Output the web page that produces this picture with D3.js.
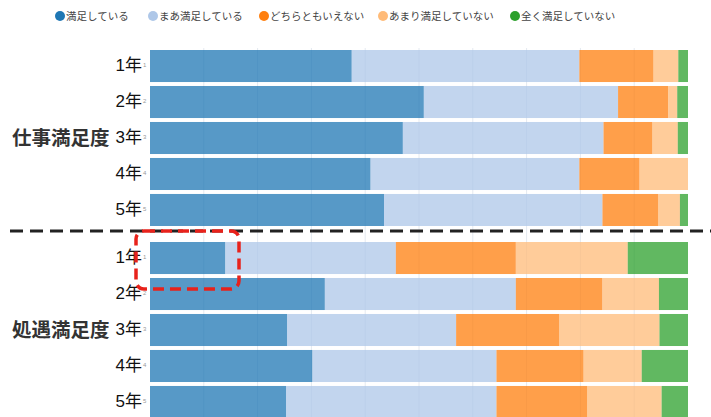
<!DOCTYPE html>
<html>
<head>
<meta charset="utf-8">
<script src="https://cdn.jsdelivr.net/npm/d3@7/dist/d3.min.js"></script>
<style>
  body { margin: 0; background: #fff; }
  svg { display: block; font-family: "Liberation Sans", "Noto Sans CJK JP", sans-serif; }
</style>
</head>
<body>
<div id="chart"></div>
<script>
'use strict';
// answer categories, years, percentages
var categories = ['満足している', 'まあ満足している', 'どちらともいえない', 'あまり満足していない', '全く満足していない'];
var years = ['1年', '2年', '3年', '4年', '5年'];
var groups = ['仕事満足度', '処遇満足度'];
var colors = ['#1f77b4', '#aec7e8', '#ff7f0e', '#ffbb78', '#2ca02c'];

var workValues = [
    [37.5, 42.3, 13.8, 4.6, 1.8],
    [50.9, 36.1, 9.3, 1.7, 2.0],
    [47.0, 37.3, 9.1, 4.7, 1.9],
    [41.0, 38.8, 11.2, 9.0, 0],
    [43.5, 40.6, 10.4, 4.0, 1.5]
];
var payValues = [
    [14.0, 31.7, 22.3, 20.8, 11.2],
    [32.5, 35.5, 16.1, 10.5, 5.4],
    [25.5, 31.4, 19.2, 18.6, 5.3],
    [30.2, 34.2, 16.2, 10.8, 8.6],
    [25.3, 39.1, 16.9, 13.8, 4.9]
];
var gridTicks = [10, 20, 30, 40, 50, 60, 70, 80, 90];

var width = 711, height = 417;
var svg = d3.select('#chart').append('svg')
    .attr('width', width)
    .attr('height', height);

var x = d3.scaleLinear().domain([0, 100]).range([150, 688]);
var color = d3.scaleOrdinal().domain(categories).range(colors);

// faint grid, barely showing through the bars
svg.append('g').selectAll('line')
    .data(gridTicks)
    .enter().append('line')
    .attr('x1', function (d) { return x(d); })
    .attr('x2', function (d) { return x(d); })
    .attr('y1', 48)
    .attr('y2', height)
    .attr('stroke', '#e4e9f0')
    .attr('stroke-width', 1);

function drawGroup(name, values, top) {
    var y = d3.scaleBand().domain(years).range([top, top + 176]).paddingInner(0.11);
    var g = svg.append('g');
    var stack = d3.stack().keys(d3.range(categories.length))(values);

    g.selectAll('g.series')
        .data(stack)
        .enter().append('g')
        .attr('fill', function (d, i) { return colors[i]; })
        .attr('fill-opacity', 0.75)
        .selectAll('rect')
        .data(function (d) { return d; })
        .enter().append('rect')
        .attr('x', function (d) { return x(d[0]); })
        .attr('width', function (d) { return x(d[1]) - x(d[0]); })
        .attr('y', function (d, i) { return y(years[i]); })
        .attr('height', y.bandwidth());

    var yAxis = d3.axisLeft(y).tickSize(0).tickPadding(0);
    var ax = g.append('g')
        .attr('transform', 'translate(142,0)')
        .call(yAxis);
    ax.select('.domain').remove();
    ax.selectAll('text')
        .attr('font-size', 17)
        .attr('fill', '#111')
        .attr('font-family', '"Liberation Sans", "Noto Sans CJK JP", sans-serif');

    // tiny index digits after the year labels
    g.selectAll('text.idx')
        .data(years)
        .enter().append('text')
        .attr('class', 'idx')
        .attr('x', 143)
        .attr('y', function (d) { return y(d) + y.bandwidth() / 2 + 1; })
        .attr('font-size', 6)
        .attr('fill', '#999')
        .text(function (d, i) { return i + 1; });

    g.append('text')
        .attr('x', 12)
        .attr('y', top + 88)
        .attr('dy', '0.35em')
        .attr('font-size', 19.5)
        .attr('font-weight', 'bold')
        .attr('fill', '#333')
        .attr('font-family', '"Noto Sans CJK JP", sans-serif')
        .text(name);
}

drawGroup(groups[0], workValues, 50);
drawGroup(groups[1], payValues, 242);

// legend
var legendX = [60, 153, 264, 383, 515];
var legend = svg.append('g').selectAll('g')
    .data(categories)
    .enter().append('g')
    .attr('transform', function (d, i) { return 'translate(' + legendX[i] + ',16)'; });
legend.append('circle')
    .attr('r', 5)
    .attr('fill', function (d) { return color(d); });
legend.append('text')
    .attr('x', 6)
    .attr('dy', '0.35em')
    .attr('font-size', 10.5)
    .attr('fill', '#444')
    .attr('font-family', '"Noto Sans CJK JP", sans-serif')
    .text(function (d) { return d; });

// separator between the two groups
svg.append('line')
    .attr('x1', 10)
    .attr('x2', width)
    .attr('y1', 231)
    .attr('y2', 231)
    .attr('stroke', '#222')
    .attr('stroke-width', 3)
    .attr('stroke-dasharray', '13,7');

// red highlight round the first treatment bar
svg.append('rect')
    .attr('x', 136)
    .attr('y', 231)
    .attr('width', 103)
    .attr('height', 58)
    .attr('rx', 8)
    .attr('fill', 'none')
    .attr('stroke', '#e8221b')
    .attr('stroke-width', 3.5)
    .attr('stroke-dasharray', '11,6');
</script>
</body>
</html>
